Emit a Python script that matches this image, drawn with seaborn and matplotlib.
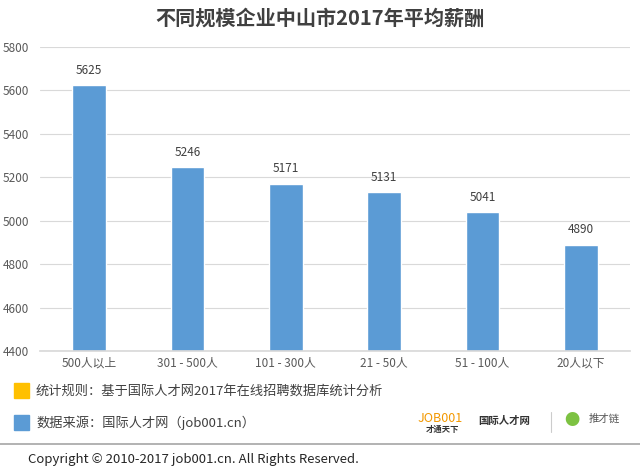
import matplotlib
matplotlib.use("Agg")
import matplotlib.pyplot as plt
import seaborn as sns
import pandas as pd

categories = ["500人以上", "301 - 500人", "101 - 300人", "21 - 50人", "51 - 100人", "20人以下"]
values = [5625, 5246, 5171, 5131, 5041, 4890]
yticks = [4400, 4600, 4800, 5000, 5200, 5400, 5600, 5800]

sns.set_theme(style="white")
plt.rcParams['font.family'] = ['Noto Sans CJK SC', 'DejaVu Sans']

df = pd.DataFrame({"cat": categories, "val": values})

fig = plt.figure(figsize=(6.4, 4.7), dpi=100)
ax = fig.add_axes([0.0625, 0.253, 0.922, 0.647])
sns.barplot(data=df, x="cat", y="val", color="#5B9BD5", width=0.34, ax=ax, saturation=1)
ax.set_ylim(4400, 5800)
ax.set_yticks(yticks)
ax.set_yticklabels([str(t) for t in yticks], fontsize=8.5, color="#595959")
ax.tick_params(axis='x', labelsize=8.5, colors="#595959", length=0, pad=4)
ax.tick_params(axis='y', length=0, pad=8)
ax.set_xlabel("")
ax.set_ylabel("")
ax.yaxis.grid(True, color="#D9D9D9", linewidth=0.8)
ax.set_axisbelow(True)
for s in ["top", "right", "left"]:
    ax.spines[s].set_visible(False)
ax.spines["bottom"].set_color("#D9D9D9")
for c in ax.containers:
    ax.bar_label(c, labels=[str(v) for v in values], padding=6, fontsize=8.5, color="#404040")

fig.text(0.5, 0.962, "不同规模企业中山市2017年平均薪酬", ha="center", va="center",
         fontsize=14.5, fontweight="bold", color="#404040")

# footer legend boxes
fig.patches.append(plt.Rectangle((14/640, 1-398/470), 15/640, 15/470, transform=fig.transFigure, color="#FFC000"))
fig.patches.append(plt.Rectangle((14/640, 1-430/470), 15/640, 15/470, transform=fig.transFigure, color="#5B9BD5"))
fig.text(36/640, 1-391/470, "统计规则：基于国际人才网2017年在线招聘数据库统计分析", fontsize=9.5, color="#404040", va="center")
fig.text(36/640, 1-423/470, "数据来源：国际人才网（job001.cn）", fontsize=9.5, color="#404040", va="center")

# logos approximated as text
fig.text(440/640, 1-418/470, "JOB001", fontsize=9, color="#F39800", va="center", ha="center")
fig.text(442/640, 1-429/470, "才通天下", fontsize=6, color="#333333", va="center", ha="center", fontweight="bold")
fig.text(504/640, 1-421/470, "国际人才网", fontsize=7.5, color="#333333", va="center", ha="center", fontweight="bold")
fig.add_artist(plt.Line2D([551/640, 551/640], [1-412/470, 1-432/470], transform=fig.transFigure, color="#CCCCCC", lw=0.8))
fig.text(604/640, 1-419/470, "推才链", fontsize=7.5, color="#555555", va="center", ha="center")
fig.text(572/640, 1-421/470, "●", fontsize=11, color="#7DC242", va="center", ha="center")

fig.add_artist(plt.Line2D([0, 1], [1-444/470, 1-444/470], transform=fig.transFigure, color="#A6A6A6", lw=1.2))
fig.text(28/640, 1-460/470, "Copyright © 2010-2017 job001.cn. All Rights Reserved.", fontsize=9.5, color="#262626", va="center")

fig.savefig("out.png", dpi=100, facecolor="white")
